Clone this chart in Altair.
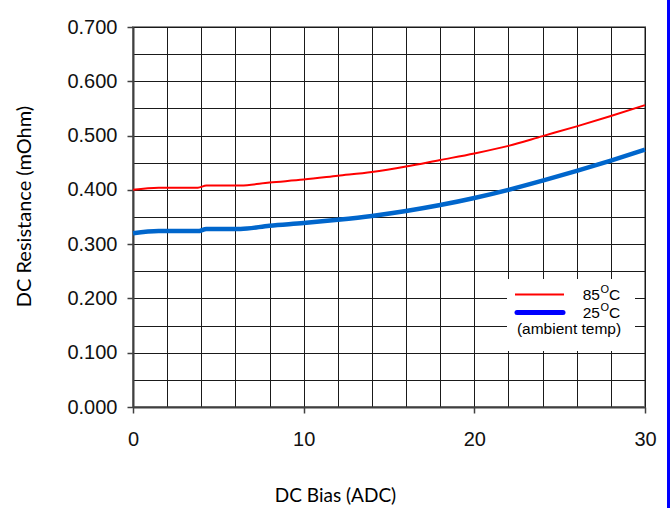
import altair as alt
import pandas as pd

# ---- data ----
bias_85 = [0, 1.5, 3.8, 4.3, 6.3, 8, 10, 12, 14, 16, 18, 20, 22, 24, 26, 28, 30]
res_85 = [0.400, 0.404, 0.404, 0.408, 0.408, 0.4135, 0.419, 0.426, 0.433, 0.443,
          0.455, 0.467, 0.481, 0.499, 0.517, 0.536, 0.556]
bias_25 = [0, 1.5, 3.8, 4.3, 6.3, 8, 10, 12, 14, 16, 18, 20, 22, 24, 26, 28, 30]
res_25 = [0.320, 0.324, 0.324, 0.328, 0.328, 0.334, 0.339, 0.345, 0.352, 0.361,
          0.372, 0.385, 0.400, 0.417, 0.435, 0.454, 0.474]
series_names = ["85C", "25C"]
series_colors = ["#FF0000", "#0066CC"]
x_grid_values = list(range(0, 31, 2))
y_grid_values = [round(i * 0.05, 2) for i in range(15)]

df = pd.concat([
    pd.DataFrame({"bias": bias_85, "res": res_85, "series": series_names[0], "w": 2.0}),
    pd.DataFrame({"bias": bias_25, "res": res_25, "series": series_names[1], "w": 4.5}),
])

LABEL_FONT = "Arial, Liberation Sans"
TITLE_FONT = "Lato"

x_axis = alt.Axis(
    values=x_grid_values,
    labelExpr="datum.value % 10 === 0 ? datum.label : ''",
    labelFlush=False, labelOverlap=False,
    title="DC Bias (ADC)",
    titleFont=TITLE_FONT, titleFontSize=19, titleFontWeight="normal", titleColor="#000",
    titleX=202, titleY=88, titleBaseline="middle", titleAnchor="start", titleAlign="center",
    labelFont=LABEL_FONT, labelFontSize=20, labelFontWeight="normal", labelColor="#111", labelPadding=16,
    tickSize=6, tickWidth=1.5,
    tickColor={"condition": {"test": "datum.value % 10 === 0", "value": "#404040"}, "value": "transparent"},
    grid=True, gridColor="#1a1a1a", gridWidth=1,
    domainColor="#404040", domainWidth=2,
)

y_axis = alt.Axis(
    values=y_grid_values,
    labelExpr="round(datum.value * 100) % 10 === 0 ? format(datum.value, '.3f') : ''",
    labelFlush=False, labelOverlap=False,
    title="DC Resistance (mOhm)",
    titleFont=TITLE_FONT, titleFontSize=20, titleFontWeight="normal", titleColor="#000",
    titleX=-109, titleY=179, titleAngle=-90, titleBaseline="middle", titleAlign="center",
    titleAnchor="start",
    labelFont=LABEL_FONT, labelFontSize=20, labelFontWeight="normal", labelColor="#111", labelPadding=10,
    tickSize=6, tickWidth=1.5,
    tickColor={"condition": {"test": "round(datum.value * 100) % 10 === 0", "value": "#404040"}, "value": "transparent"},
    grid=True, gridColor="#1a1a1a", gridWidth=1,
    domainColor="#404040", domainWidth=2,
)

lines = alt.Chart(df).mark_line(interpolate="monotone").encode(
    x=alt.X("bias:Q", scale=alt.Scale(domain=[0, 30], nice=False), axis=x_axis),
    y=alt.Y("res:Q", scale=alt.Scale(domain=[0, 0.7], nice=False), axis=y_axis),
    color=alt.Color("series:N", scale=alt.Scale(domain=series_names, range=series_colors), legend=None),
    strokeWidth=alt.StrokeWidth("w:Q", scale=None),
    detail="series:N",
)

# ---- manual legend box ----
box = alt.Chart(pd.DataFrame({"a": [0]})).mark_rect(fill="white", stroke=None).encode(
    x=alt.value(374), x2=alt.value(502), y=alt.value(252), y2=alt.value(324)
)
leg_red = alt.Chart(pd.DataFrame({"a": [0]})).mark_rule(color="#FF0000", strokeWidth=2).encode(
    x=alt.value(382), x2=alt.value(431), y=alt.value(267.5)
)
leg_blue = alt.Chart(pd.DataFrame({"a": [0]})).mark_rule(color="#0000FF", strokeWidth=5, strokeCap="round").encode(
    x=alt.value(384), x2=alt.value(430), y=alt.value(285.5)
)

def txt(s, x, y, size, align="left"):
    return alt.Chart(pd.DataFrame({"t": [s]})).mark_text(
        font=LABEL_FONT, fontSize=size, color="#000", align=align, baseline="alphabetic"
    ).encode(text="t:N", x=alt.value(x), y=alt.value(y))

legend_texts = [
    txt("85", 467, 273, 15.5, "right"),
    txt("O", 467.5, 266, 11),
    txt("C", 476, 273, 15.5),
    txt("25", 467, 291, 15.5, "right"),
    txt("O", 467.5, 284, 11),
    txt("C", 476, 291, 15.5),
    txt("(ambient temp)", 436, 307, 15.5, "center"),
]

# right-hand blue page border
border = alt.Chart(pd.DataFrame({"a": [0]})).mark_rule(color="#0000FF", strokeWidth=3).encode(
    x=alt.value(535.5), y=alt.value(-27), y2=alt.value(481)
)

chart = alt.layer(lines, box, leg_red, leg_blue, *legend_texts, border).properties(
    width=512, height=380,
    padding={"left": 133, "top": 27, "right": 25, "bottom": 101},
    autosize=alt.AutoSizeParams(type="none"),
    background="white",
).configure_view(stroke="#8c8c8c", strokeWidth=2)

chart.save("out.html", embed_options={"renderer": "svg", "actions": False})
